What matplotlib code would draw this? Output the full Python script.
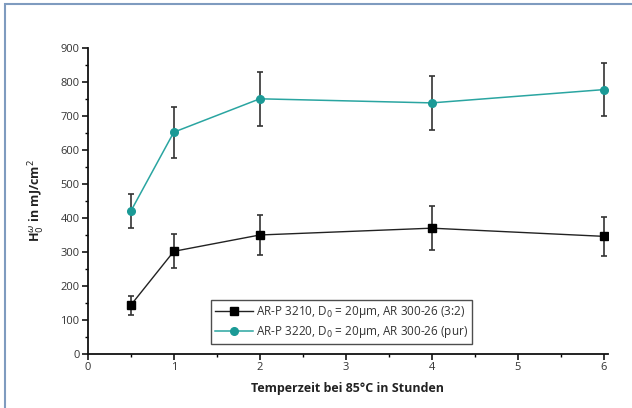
import numpy as np
import matplotlib.pyplot as plt
from matplotlib.patches import Rectangle

plt.rcParams['font.family'] = ['Open Sans', 'DejaVu Sans']

# Temperzeit in Stunden
zeit = [0.5, 1, 2, 4, 6]

# AR-P 3210 (3:2)
h_3210 = [144, 302, 350, 370, 346]
err_3210 = [28, 50, 58, 65, 58]

# AR-P 3220 (pur)
h_3220 = [420, 652, 750, 738, 777]
err_3220 = [50, 75, 80, 80, 78]

label_3210 = r'AR-P 3210, D$_0$ = 20µm, AR 300-26 (3:2)'
label_3220 = r'AR-P 3220, D$_0$ = 20µm, AR 300-26 (pur)'

teal = '#1b9a96'
txt = '#333333'

fig = plt.figure(figsize=(6.32, 4.08), dpi=100)
ax = fig.add_axes([0.139, 0.132, 0.823, 0.751])

# Fehlerbalken (ohne Legende)
ax.errorbar(zeit, h_3210, yerr=err_3210, fmt='none',
            ecolor='#333333', elinewidth=1.2, capsize=2.5, capthick=1.2)
ax.errorbar(zeit, h_3220, yerr=err_3220, fmt='none',
            ecolor='#333333', elinewidth=1.2, capsize=2.5, capthick=1.2)

# Linien mit Symbolen
ax.plot(zeit, h_3210, color='#222222', lw=1.0, marker='s', ms=6,
        mfc='black', mec='black', label=label_3210)
ax.plot(zeit, h_3220, color='#2aa5a1', lw=1.1, marker='o', ms=5.5,
        mfc=teal, mec=teal, label=label_3220)

ax.set_xlim(0, 6.05)
ax.set_ylim(0, 900)
ax.set_xticks(np.arange(0, 7, 1))
ax.set_xticks(np.arange(0.5, 6, 1), minor=True)
ax.set_yticks(np.arange(0, 1000, 100))
ax.set_yticks(np.arange(50, 900, 100), minor=True)

for s in ['top', 'right']:
    ax.spines[s].set_visible(False)
for s in ['left', 'bottom']:
    ax.spines[s].set_linewidth(1.3)
    ax.spines[s].set_color('#111111')

ax.tick_params(which='major', direction='out', length=4, width=1.1,
               labelsize=8, labelcolor=txt, pad=2)
ax.tick_params(which='minor', direction='out', length=2.5, width=1.0)

ax.set_xlabel('Temperzeit bei 85°C in Stunden', fontsize=9,
              fontweight='bold', color='#222222', labelpad=6)
ax.set_ylabel(r'H$_0^{\omega}$ in mJ/cm$^2$', fontsize=9,
              fontweight='bold', color='#222222', labelpad=10)

leg = ax.legend(loc='upper left', bbox_to_anchor=(0.225, 0.195),
                fontsize=8.5, frameon=True, fancybox=False,
                edgecolor='#222222', handlelength=3.2, borderpad=0.35,
                labelspacing=0.3, handletextpad=0.3)
leg.get_frame().set_linewidth(1.0)
for t in leg.get_texts():
    t.set_color(txt)

# Rahmen um die Grafik
fig.patches.append(Rectangle((4.5 / 632, -0.05), 1.1, (408 - 4.5) / 408 + 0.05,
                             transform=fig.transFigure, fill=False,
                             edgecolor='#7f9bbf', lw=1.5))

fig.savefig('out.png', dpi=100)
